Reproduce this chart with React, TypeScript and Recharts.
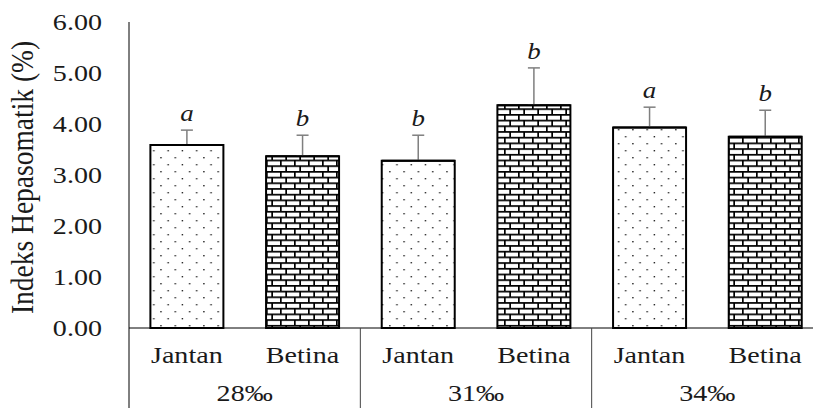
import React from 'react';
import { BarChart, Bar, XAxis, YAxis, Cell, ErrorBar, LabelList } from 'recharts';

const groups = ['28‰', '31‰', '34‰'];
const sexes = ['Jantan', 'Betina'];
const means = [3.59, 3.37, 3.28, 4.37, 3.93, 3.75];
const sds = [0.29, 0.41, 0.5, 0.73, 0.4, 0.52];
const letters = ['a', 'b', 'b', 'b', 'a', 'b'];
const yTicks = [0, 1, 2, 3, 4, 5, 6];

const data = means.map((m, i) => ({
  label: sexes[i % 2],
  group: groups[Math.floor(i / 2)],
  mean: m,
  sd: [0, sds[i]],
  sdv: sds[i],
  letter: letters[i],
  sex: i % 2,
}));

const FONT = "'Liberation Serif', 'Times New Roman', serif";
const SX = 1.17;
const CHART_W = 830;
const CHART_H = 408;
const MARGIN = { top: 22, right: 7, bottom: 0, left: 0 };
const Y_W = 129;
const X_H = 80;
const CAT_W = (CHART_W - MARGIN.left - MARGIN.right - Y_W) / data.length;

const YTick = (props: any) => {
  const { x, y, payload } = props;
  return (
    <text
      transform={`translate(${x - 27},${y + 7.5}) scale(${SX},1)`}
      textAnchor="end"
      fontSize={24}
      fontFamily={FONT}
      fill="#1a1a1a"
    >
      {Number(payload.value).toFixed(2)}
    </text>
  );
};

const XTick = (props: any) => {
  const { x, y, payload } = props;
  const i = props.index ?? payload.index ?? 0;
  const first = i % 2 === 0;
  return (
    <g>
      <text
        transform={`translate(${x},${y + 35}) scale(${SX},1)`}
        textAnchor="middle"
        fontSize={24}
        fontFamily={FONT}
        fill="#1a1a1a"
      >
        {payload.value}
      </text>
      {first && (
        <g>
          <line
            x1={x - CAT_W / 2}
            x2={x - CAT_W / 2}
            y1={y}
            y2={y + X_H}
            stroke={i === 0 ? '#000' : '#444'}
            strokeWidth={1}
          />
          <text
            transform={`translate(${x + CAT_W / 2},${y + 73}) scale(${SX},1)`}
            textAnchor="middle"
            fontSize={24}
            fontFamily={FONT}
            fill="#1a1a1a"
          >
            {groups[Math.floor(i / 2)]}
          </text>
        </g>
      )}
    </g>
  );
};

const YLabel = () => (
  <text
    transform={`translate(33,177.5) scale(${SX},1) rotate(-90)`}
    textAnchor="middle"
    fontSize={27.5}
    fontFamily={FONT}
    fill="#1a1a1a"
  >
    Indeks Hepasomatik (%)
  </text>
);

const LetterLabel = (props: any) => {
  const vb = props.viewBox && props.viewBox.height !== undefined ? props.viewBox : props;
  const x = Number(vb.x);
  const y = Number(vb.y);
  const width = Number(vb.width);
  const height = Number(vb.height);
  const idx = props.index;
  const d = data[idx];
  if (!d || !isFinite(x)) return null;
  const pxPerUnit = height / d.mean;
  const top = y - d.sdv * pxPerUnit;
  return (
    <g>
      <line x1={x} x2={x + width} y1={y} y2={y} stroke="#000" strokeWidth={2} />
      <text
        transform={`translate(${x + width / 2},${top - 9}) scale(${SX},1)`}
        textAnchor="middle"
        fontSize={23}
        fontStyle="italic"
        fontFamily={FONT}
        fill="#1a1a1a"
      >
        {d.letter}
      </text>
    </g>
  );
};

export default function App() {
  return (
    <div
      style={{
        position: 'absolute',
        left: 0,
        top: 0,
        width: 813,
        height: 408,
        overflow: 'hidden',
        background: '#fff',
      }}
    >
      <BarChart width={CHART_W} height={CHART_H} data={data} margin={MARGIN} barCategoryGap="18.5%">
        <defs>
          <pattern id="dots" patternUnits="userSpaceOnUse" width="14.3" height="14" x="0" y="0">
            <rect width="14.3" height="14" fill="#fff" />
            <rect x="3" y="3" width="1.4" height="1.4" fill="#222" />
            <rect x="10.15" y="10" width="1.4" height="1.4" fill="#222" />
          </pattern>
          <pattern id="bricks" patternUnits="userSpaceOnUse" width="14" height="11.4" x="0" y="0">
            <rect width="14" height="11.4" fill="#000" />
            <rect x="1.7" y="1.7" width="12.3" height="4" fill="#fff" />
            <rect x="0" y="7.4" width="5.3" height="4" fill="#fff" />
            <rect x="7" y="7.4" width="7" height="4" fill="#fff" />
          </pattern>
        </defs>
        <XAxis
          dataKey="label"
          interval={0}
          height={X_H}
          tickLine={false}
          tickSize={0}
          tickMargin={0}
          axisLine={{ stroke: '#000', strokeWidth: 1 }}
          tick={<XTick />}
        />
        <YAxis
          width={Y_W}
          domain={[0, 6]}
          ticks={yTicks}
          interval={0}
          tickLine={false}
          tickSize={0}
          tickMargin={0}
          axisLine={{ stroke: '#000', strokeWidth: 1 }}
          tick={<YTick />}
          label={<YLabel />}
        />
        <Bar dataKey="mean" stroke="#000" strokeWidth={2} isAnimationActive={false}>
          {data.map((d, i) => (
            <Cell key={i} fill={d.sex === 0 ? 'url(#dots)' : 'url(#bricks)'} />
          ))}
          <ErrorBar dataKey="sd" width={6} stroke="#7f7f7f" strokeWidth={1.5} direction="y" />
          <LabelList dataKey="letter" content={<LetterLabel />} />
        </Bar>
      </BarChart>
    </div>
  );
}
